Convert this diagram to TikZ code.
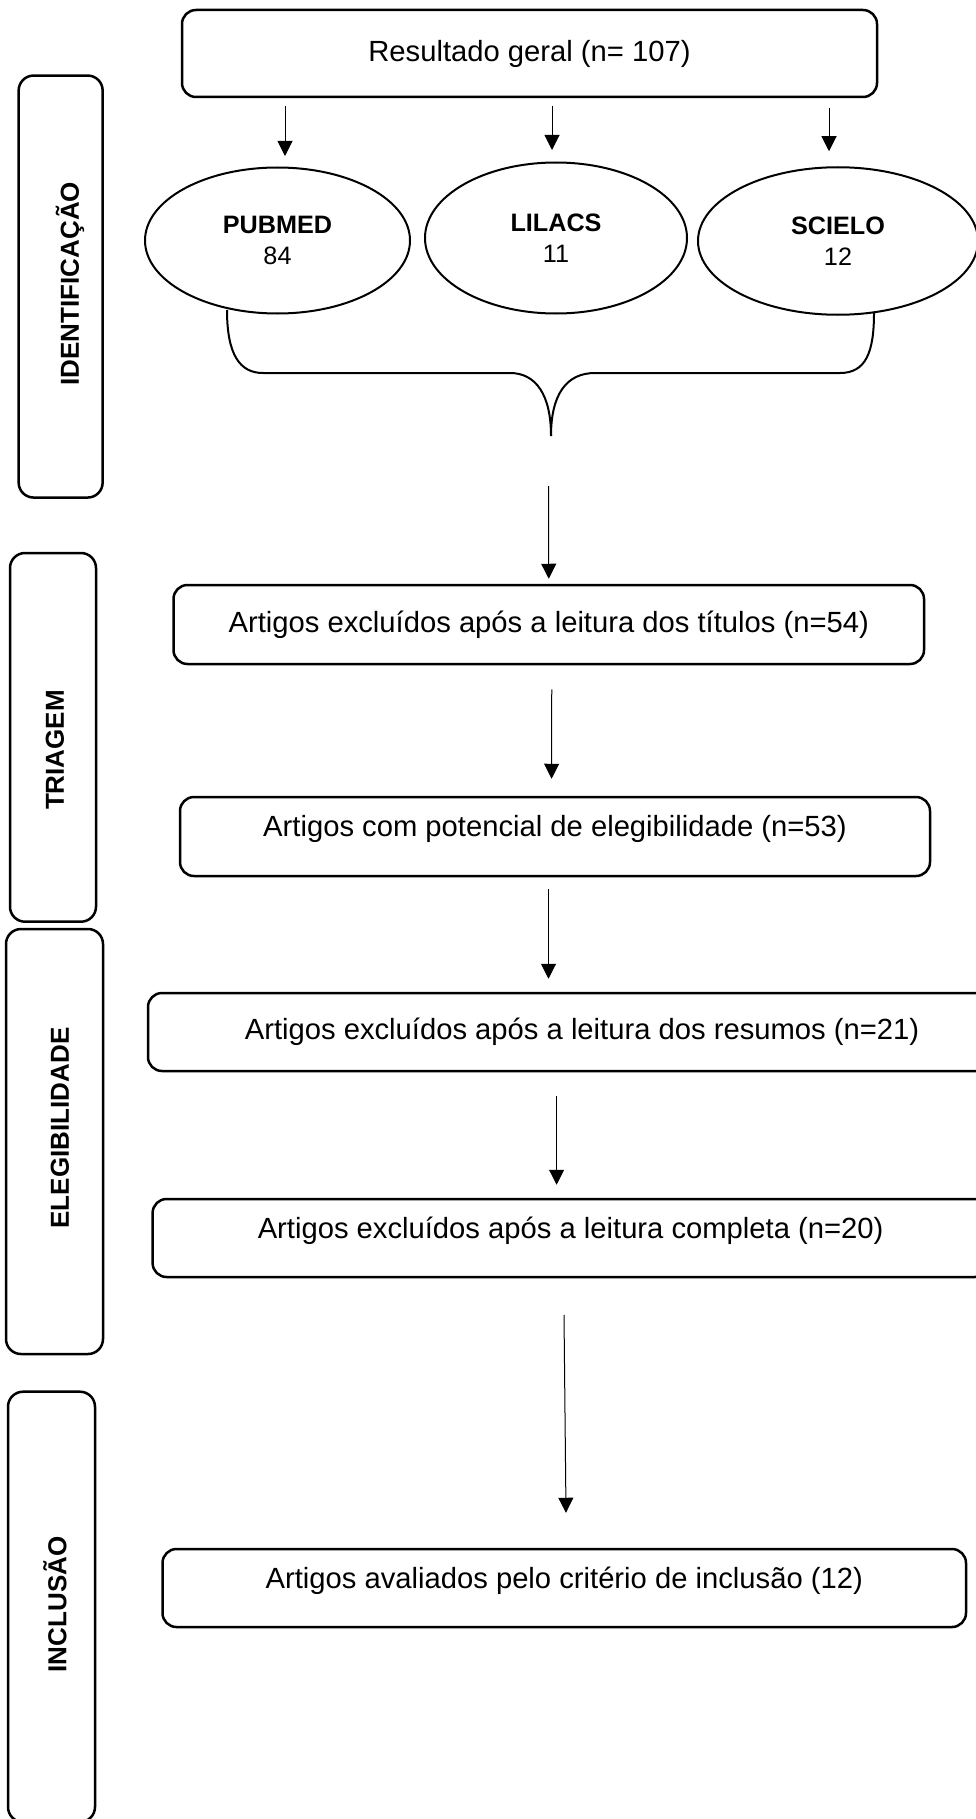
\documentclass[tikz,border=0pt]{standalone}
\usepackage{fontspec}
\setmainfont{Liberation Sans}
\usetikzlibrary{shapes.geometric,arrows.meta,calc}

\tikzstyle{box} = [draw, line width=1.25pt, rounded corners=7pt, font=\fontsize{14.6}{17.5}\selectfont]

\begin{document}
\begin{tikzpicture}[x=0.5pt, y=-0.5pt,
		base/.style={draw, ellipse, line width=1pt, align=center, font=\fontsize{12.6}{15.5}\selectfont},
		phase/.style={draw, line width=1.25pt, rounded corners=7.5pt},
		phasetext/.style={rotate=90, font=\bfseries\fontsize{13}{15}\selectfont},
		raised/.style={text height=10pt, text depth=10pt},
		flow/.style={line width=0.5pt, -{Triangle[length=7.5pt,width=7.5pt]}},
		brace/.style={line width=1pt}]
		\useasboundingbox (0,0) rectangle (975,1819);
		% phases on the left
		\node (idf) [phase, minimum width=42pt, minimum height=211pt] at (60.65,286.55) {};
		\node (tri) [phase, minimum width=43pt, minimum height=184.35pt] at (53,737.35) {};
		\node (ele) [phase, minimum width=48.5pt, minimum height=212.5pt] at (54.5,1141.5) {};
		\node (inc) [phase, minimum width=43.5pt, minimum height=215.15pt] at (51.5,1606.85) {};
		\node (tidf) [phasetext] at (70,283.6) {IDENTIFICAÇÃO};
		\node (ttri) [phasetext] at (55,750) {TRIAGEM};
		\node (tele) [phasetext] at (60,1128) {ELEGIBILIDADE};
		\node (tinc) [phasetext] at (55,1604.5) {INCLUSÃO};
		% search
		\node (top) [box, minimum width=347.5pt, minimum height=43.5pt] at (529.5,53.5) {Resultado geral (n= 107)};
		\node (pub) [base, minimum width=132.5pt, minimum height=73pt] at (277.5,240.5) {\textbf{PUBMED}\\84};
		\node (lil) [base, minimum width=131pt, minimum height=75.5pt] at (556,238) {\textbf{LILACS}\\11};
		\node (sci) [base, minimum width=140pt, minimum height=73.75pt] at (838,241) {\textbf{SCIELO}\\12};
		\draw [flow] ($(top.south -| pub.north)+(7.5,7.5)$) -- ($(pub.north)+(7.5,-10.5)$);
		\draw [flow] ($(top.south -| lil.north)+(-4,7.5)$) -- ($(lil.north)+(-4,-11.5)$);
		\draw [flow] ($(top.south -| sci.north)+(-9,10)$) -- ($(sci.north)+(-9,-15)$);
		% brace
		\coordinate (tip) at (551,436);
		\draw [brace] ($(pub.south)+(-50.5,-4.5)$) .. controls (227,355) and (240,373) .. (263,373) -- (510,373) .. controls (536,373) and (551,395) .. (tip);
		\draw [brace] (tip) .. controls (551,395) and (566,373) .. (595,373) -- (840,373) .. controls (866,373) and (874,352) .. ($(sci.south)+(36,-3)$);
		% screening
		\node (r2) [box, minimum width=375.25pt, minimum height=39.5pt] at (548.75,624.5) {Artigos excluídos após a leitura dos títulos (n=54)};
		\node (r3) [box, raised, minimum width=375pt, minimum height=39.5pt] at (555,836.5) {Artigos com potencial de elegibilidade (n=53)};
		\node (r4) [box, minimum width=434pt, minimum height=39pt] at (582,1032) {Artigos excluídos após a leitura dos resumos (n=21)};
		\node (r5) [box, raised, minimum width=418pt, minimum height=39pt] at (570.6,1238) {Artigos excluídos após a leitura completa (n=20)};
		\node (r6) [box, raised, minimum width=401.75pt, minimum height=39pt] at (564.25,1588) {Artigos avaliados pelo critério de inclusão (12)};
		\draw [flow] ($(tip)+(-2.5,50)$) -- ($(r2.north)+(0,-5)$);
		\draw [flow] ($(r2.south)+(3,24)$) -- ($(r3.north)+(-3.4,-17)$);
		\draw [flow] ($(r3.south)+(-6.5,12)$) -- ($(r4.north)+(-33.5,-13)$);
		\draw [flow] ($(r4.south)+(-25.4,24)$) -- ($(r5.north)+(-14,-13)$);
		\draw [flow] ($(r5.south)+(-6.6,36.5)$) -- ($(r6.north)+(1.75,-35)$);
	\end{tikzpicture}
\end{document}
